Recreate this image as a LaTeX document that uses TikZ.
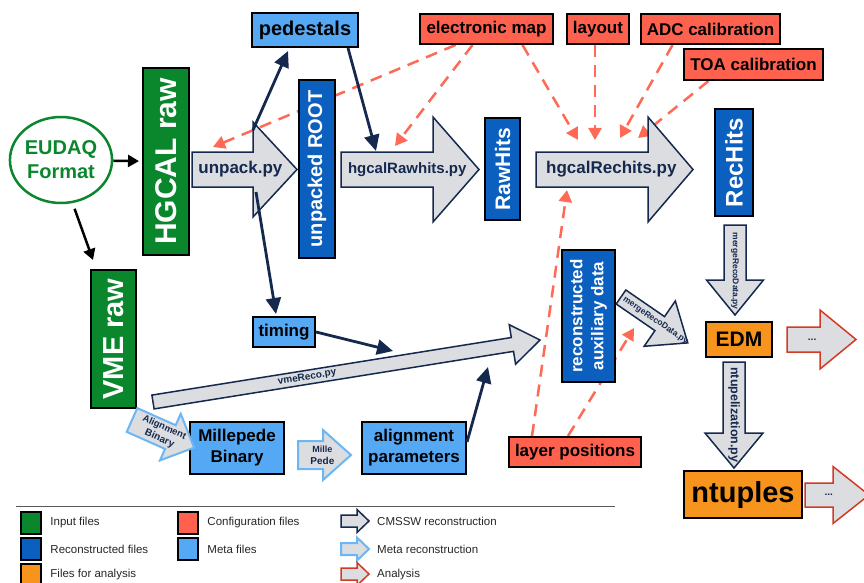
\documentclass[tikz,border=0pt]{standalone}
\usepackage{fontspec}
\setmainfont{Liberation Sans}
\usetikzlibrary{arrows.meta,shapes.geometric,positioning,backgrounds}

\definecolor{inputgreen}{HTML}{0A862D}
\definecolor{recoblue}{HTML}{0A5FBF}
\definecolor{metablue}{HTML}{55A9F4}
\definecolor{confred}{HTML}{FF614F}
\definecolor{anaorange}{HTML}{F7941D}
\definecolor{cmsnavy}{HTML}{15294F}
\definecolor{arrowgray}{HTML}{DCDDE0}
\definecolor{dashred}{HTML}{FF6A56}
\definecolor{metaline}{HTML}{6DB6F4}
\definecolor{anared}{HTML}{D33A25}

\newcommand{\fsz}[2]{\fontsize{#1}{#2}\selectfont}

% block arrow: style, start, angle, length, shaft, head width, head length, node options, text
\newcommand{\blockarrow}[9]{%
  \begin{scope}[shift={#2}, rotate=#3]
    \path[#1] (0,-#5/2) -- ({#4-#7},-#5/2) -- ({#4-#7},-#6/2) -- (#4,0)
      -- ({#4-#7},#6/2) -- ({#4-#7},#5/2) -- (0,#5/2) -- cycle;
    \node[arrtxt, #8] at ({0.48*#4},0) {#9};
  \end{scope}}

\tikzset{
  box/.style={draw=black, line width=2pt, inner sep=2pt, font=\bfseries\fsz{17}{21}},
  inputbox/.style={box, fill=inputgreen, text=white},
  recobox/.style={box, fill=recoblue, text=white},
  metabox/.style={box, fill=metablue},
  confbox/.style={box, fill=confred},
  anabox/.style={box, fill=anaorange},
  swatch/.style={draw=black, line width=2.5pt, minimum width=20, minimum height=22, inner sep=0pt},
  legtext/.style={text=black!85, font=\fsz{11.5}{13}, inner sep=0pt},
  blk/.style={draw=black, line width=2.5pt, -{Triangle[length=11pt,width=12pt]}},
  flow/.style={draw=cmsnavy, line width=2.8pt, -{Triangle[length=16pt,width=15pt]}},
  cfgflow/.style={draw=dashred, line width=2.5pt, dash pattern=on 12pt off 8pt, -{Triangle[length=12pt,width=13pt]}},
  cmsarrow/.style={draw=cmsnavy, fill=arrowgray, line width=1.5pt},
  metaarrow/.style={draw=metaline, fill=arrowgray, line width=2pt},
  anaarrow/.style={draw=anared, fill=arrowgray, line width=1.5pt},
  arrtxt/.style={transform shape, text=cmsnavy, font=\bfseries, align=center, inner sep=0pt},
}

\begin{document}
\begin{tikzpicture}[x=1pt,y=-1pt]
\useasboundingbox (0,0) rectangle (864,583);

% input files
\node[ellipse, draw=inputgreen, line width=2.5pt, text=inputgreen, font=\bfseries\fsz{20}{24},
  align=center, minimum width=98, minimum height=86, inner sep=0pt] (eudaq) at (61,160) {EUDAQ\\Format};
\node[inputbox, rotate=90, minimum width=187, minimum height=46] (hgcalraw) at (166,161.5) {\fsz{30}{30}HGCAL raw};
\node[inputbox, rotate=90, minimum width=138, minimum height=45] (vmeraw) at (113.5,339) {\fsz{29}{29}VME raw};

% reconstructed and meta files
\node[metabox, minimum width=106, minimum height=34] (pedestals) at (305,30) {\fsz{20}{20}pedestals};
\node[recobox, rotate=90, minimum width=178, minimum height=36] (unpacked) at (317,169) {\fsz{20}{20}unpacked ROOT};
\node[recobox, rotate=90, minimum width=102, minimum height=35] (rawhits) at (502.5,169) {\fsz{21}{21}RawHits};
\node[recobox, rotate=90, minimum width=107, minimum height=38] (rechits) at (734,162.5) {\fsz{24}{24}RecHits};
\node[metabox, minimum width=62, minimum height=30] (timing) at (284,332) {timing};
\node[recobox, rotate=90, align=center, minimum width=132, minimum height=53] (auxdata) at (588.5,316) {reconstructed\\auxiliary data};
\node[metabox, align=center, minimum width=94, minimum height=52] (millepede) at (237,448) {Millepede\\Binary};
\node[metabox, align=center, minimum width=104, minimum height=52] (alignpar) at (414,448) {alignment\\parameters};

% configuration files
\node[confbox, minimum width=133, minimum height=30] (elmap) at (486.5,29) {electronic map};
\node[confbox, minimum width=62, minimum height=30] (layout) at (598,29) {layout};
\node[confbox, minimum width=139, minimum height=30] (adc) at (710.5,29) {ADC calibration};
\node[confbox, minimum width=139, minimum height=31] (toa) at (753.5,64.5) {TOA calibration};
\node[confbox, minimum width=132, minimum height=30] (layerpos) at (575,452) {layer positions};

% files for analysis
\node[anabox, minimum width=66, minimum height=35] (edm) at (739,339.5) {\fsz{21}{21}EDM};
\node[anabox, minimum width=118, minimum height=47] (ntuples) at (743,494.5) {\fsz{29}{29}ntuples};

% reconstruction steps
\blockarrow{cmsarrow}{(192,169.5)}{0}{105}{35}{95}{44}{name=unpackpy, xshift=-2pt}{\fsz{17}{17}unpack.py}
\blockarrow{cmsarrow}{(341,169.5)}{0}{138}{35}{105}{46}{name=rawhitspy}{\fsz{15}{15}hgcalRawhits.py}
\blockarrow{cmsarrow}{(536,169.5)}{0}{157}{35}{105}{45}{name=rechitspy}{\fsz{17}{17}hgcalRechits.py}
\blockarrow{cmsarrow}{(153,402)}{9.1}{392}{14}{40}{28}{name=vmereco, xshift=-32pt}{\fsz{10}{10}vmeReco.py}
\blockarrow{cmsarrow}{(621,297)}{-34.5}{81}{17}{55}{34}{name=mergeaux, xshift=3pt}{\fsz{8.5}{8.5}mergeRecoData.py}
\blockarrow{cmsarrow}{(735,225)}{-90}{90}{22}{57}{35}{name=mergerec, xshift=3pt}{\fsz{8.5}{8.5}mergeRecoData.py}
\blockarrow{cmsarrow}{(734,362)}{-90}{106}{22}{58}{35}{name=ntuplize, xshift=2pt}{\fsz{12.5}{12.5}ntupelization.py}
\blockarrow{anaarrow}{(787,339.5)}{0}{69}{25}{59}{36}{name=edmout, xshift=-8pt}{\fsz{10}{10}...}
\blockarrow{anaarrow}{(805,495)}{0}{64}{24}{57}{36}{name=ntupout, xshift=-7pt}{\fsz{10}{10}...}
\blockarrow{metaarrow}{(132,420)}{-24}{68}{26}{51}{26}{name=alignbin}{\fsz{9.5}{10}Alignment\\Binary}
\blockarrow{metaarrow}{(298,455)}{0}{53}{28}{50}{28}{name=millepy, xshift=-1pt}{\fsz{9}{12}Mille\\Pede}

% end points on the step arrows
\coordinate (unpackup) at (253,130);
\coordinate (unpackdown) at (256,192);
\coordinate (pedin) at (376,151);
\coordinate (timein) at (393,351);
\coordinate (alignin) at (488,367);
\coordinate (vmetop) at (93,260);
\coordinate (unpackcfg) at (213,147);
\coordinate (rawhitscfg) at (395,146);
\coordinate (rechitscfgA) at (578,140);
\coordinate (rechitscfgB) at (595,140);
\coordinate (rechitscfgC) at (620,138);
\coordinate (rechitscfgD) at (638,138);
\coordinate (rechitscfgE) at (567,190);
\coordinate (auxcfg) at (634,328);

% configuration inputs
\begin{pgfonlayer}{background}
  \draw[cfgflow] ([xshift=-31pt]elmap.south) -- (unpackcfg);
  \draw[cfgflow] ([xshift=-14pt]elmap.south) -- (rawhitscfg);
  \draw[cfgflow] ([xshift=36pt]elmap.south) -- (rechitscfgA);
  \draw[cfgflow] ([xshift=-3pt]layout.south) -- (rechitscfgB);
  \draw[cfgflow] ([xshift=-38pt]adc.south) -- (rechitscfgC);
  \draw[cfgflow] ([xshift=-45pt]toa.south) -- (rechitscfgD);
  \draw[cfgflow] ([xshift=-43pt]layerpos.north) -- (rechitscfgE);
  \draw[cfgflow] ([xshift=-7pt]layerpos.north) -- (auxcfg);
\end{pgfonlayer}

% data flow
\draw[blk, shorten >=3pt] (eudaq) -- (hgcalraw);
\draw[blk, shorten <=6pt] (eudaq.-75) -- (vmetop);
\draw[flow] (unpackup) -- ([xshift=-17pt, yshift=-3pt]pedestals.south);
\draw[flow] (unpackdown) -- ([xshift=-8pt, yshift=2pt]timing.north);
\draw[flow] ([xshift=43pt]pedestals.south) -- (pedin);
\draw[flow] (timing.east) -- (timein);
\draw[flow] ([yshift=6pt]alignpar.east) -- (alignin);

% legend
\draw[gray!70!black, line width=1pt] (16,506) -- (615,506);
\node[swatch, fill=inputgreen] (leginput) at (31,523) {};
\node[swatch, fill=recoblue] (legreco) at (31,549) {};
\node[swatch, fill=anaorange] (legana) at (31,575) {};
\node[swatch, fill=confred] (legconf) at (188,523) {};
\node[swatch, fill=metablue] (legmeta) at (188,549) {};
\node[legtext, right=8pt of leginput] (leginputtxt) {Input files};
\node[legtext, right=8pt of legreco] (legrecotxt) {Reconstructed files};
\node[legtext, right=8pt of legana] (leganatxt) {Files for analysis};
\node[legtext, right=8pt of legconf] (legconftxt) {Configuration files};
\node[legtext, right=8pt of legmeta] (legmetatxt) {Meta files};
\blockarrow{cmsarrow}{(341,521)}{0}{28}{12}{23}{12}{name=legcms}{}
\blockarrow{metaarrow}{(341,549)}{0}{28}{12}{23}{12}{name=legmetaarr}{}
\blockarrow{anaarrow}{(341,574)}{0}{28}{12}{23}{12}{name=leganaarr}{}
\node[legtext, anchor=west] (legcmstxt) at (377,521) {CMSSW reconstruction};
\node[legtext, anchor=west] (legmetaarrtxt) at (377,549) {Meta reconstruction};
\node[legtext, anchor=west] (leganaarrtxt) at (377,575) {Analysis};
\end{tikzpicture}
\end{document}
